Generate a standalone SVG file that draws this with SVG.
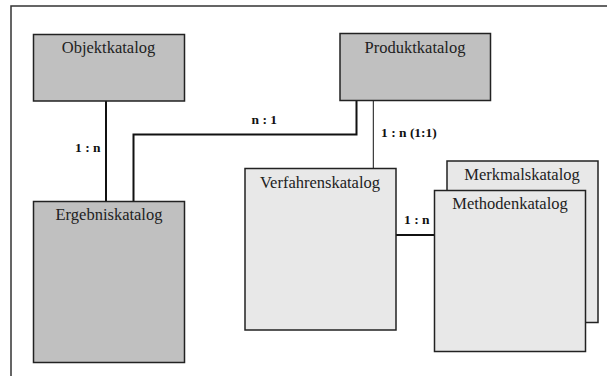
<svg xmlns="http://www.w3.org/2000/svg" width="607" height="376" viewBox="0 0 607 376">
<style>
.box{stroke:#222;stroke-width:1.5}
.dark{fill:#c0c0c0}
.light{fill:#e8e8e8}
.title{font-family:"Liberation Serif","Times New Roman",serif;font-size:16.5px;fill:#222;text-anchor:middle}
.lbl{font-family:"Liberation Serif","Times New Roman",serif;font-size:13.5px;font-weight:bold;fill:#111}
.conn{fill:none;stroke:#111;stroke-width:2}
</style>
<rect x="0" y="0" width="607" height="376" fill="#fff"/>
<rect x="11" y="6" width="620" height="400" fill="none" stroke="#333" stroke-width="1.5"/>
<g id="connectors">
<path class="conn" d="M106 101V201"/>
<path class="conn" d="M133.5 201V134.5H356.5V101"/>
<path class="conn" style="stroke-width:1" d="M373.3 101V168"/>
<path class="conn" d="M396 235H434"/>
<text class="lbl" x="75" y="152">1 : n</text>
<text class="lbl" x="251.5" y="124">n : 1</text>
<text class="lbl" x="381" y="137">1 : n (1:1)</text>
<text class="lbl" x="404" y="224">1 : n</text>
</g>
<g id="objektkatalog">
<rect class="box dark" x="33.5" y="34.5" width="151" height="66.5"/>
<text class="title" x="108.5" y="53">Objektkatalog</text>
</g>
<g id="produktkatalog">
<rect class="box dark" x="340" y="33.5" width="150.5" height="67"/>
<text class="title" x="415" y="53">Produktkatalog</text>
</g>
<g id="ergebniskatalog">
<rect class="box dark" x="33.5" y="201.5" width="151" height="161"/>
<text class="title" x="109" y="220">Ergebniskatalog</text>
</g>
<g id="verfahrenskatalog">
<rect class="box light" x="245" y="168.5" width="151" height="161.5"/>
<text class="title" x="320" y="187.5">Verfahrenskatalog</text>
</g>
<g id="merkmalskatalog">
<rect class="box light" x="447" y="161" width="151" height="161.5"/>
<text class="title" x="522" y="180">Merkmalskatalog</text>
</g>
<g id="methodenkatalog">
<rect class="box light" x="434.5" y="190.5" width="151" height="161"/>
<text class="title" x="510" y="209">Methodenkatalog</text>
</g>
</svg>
